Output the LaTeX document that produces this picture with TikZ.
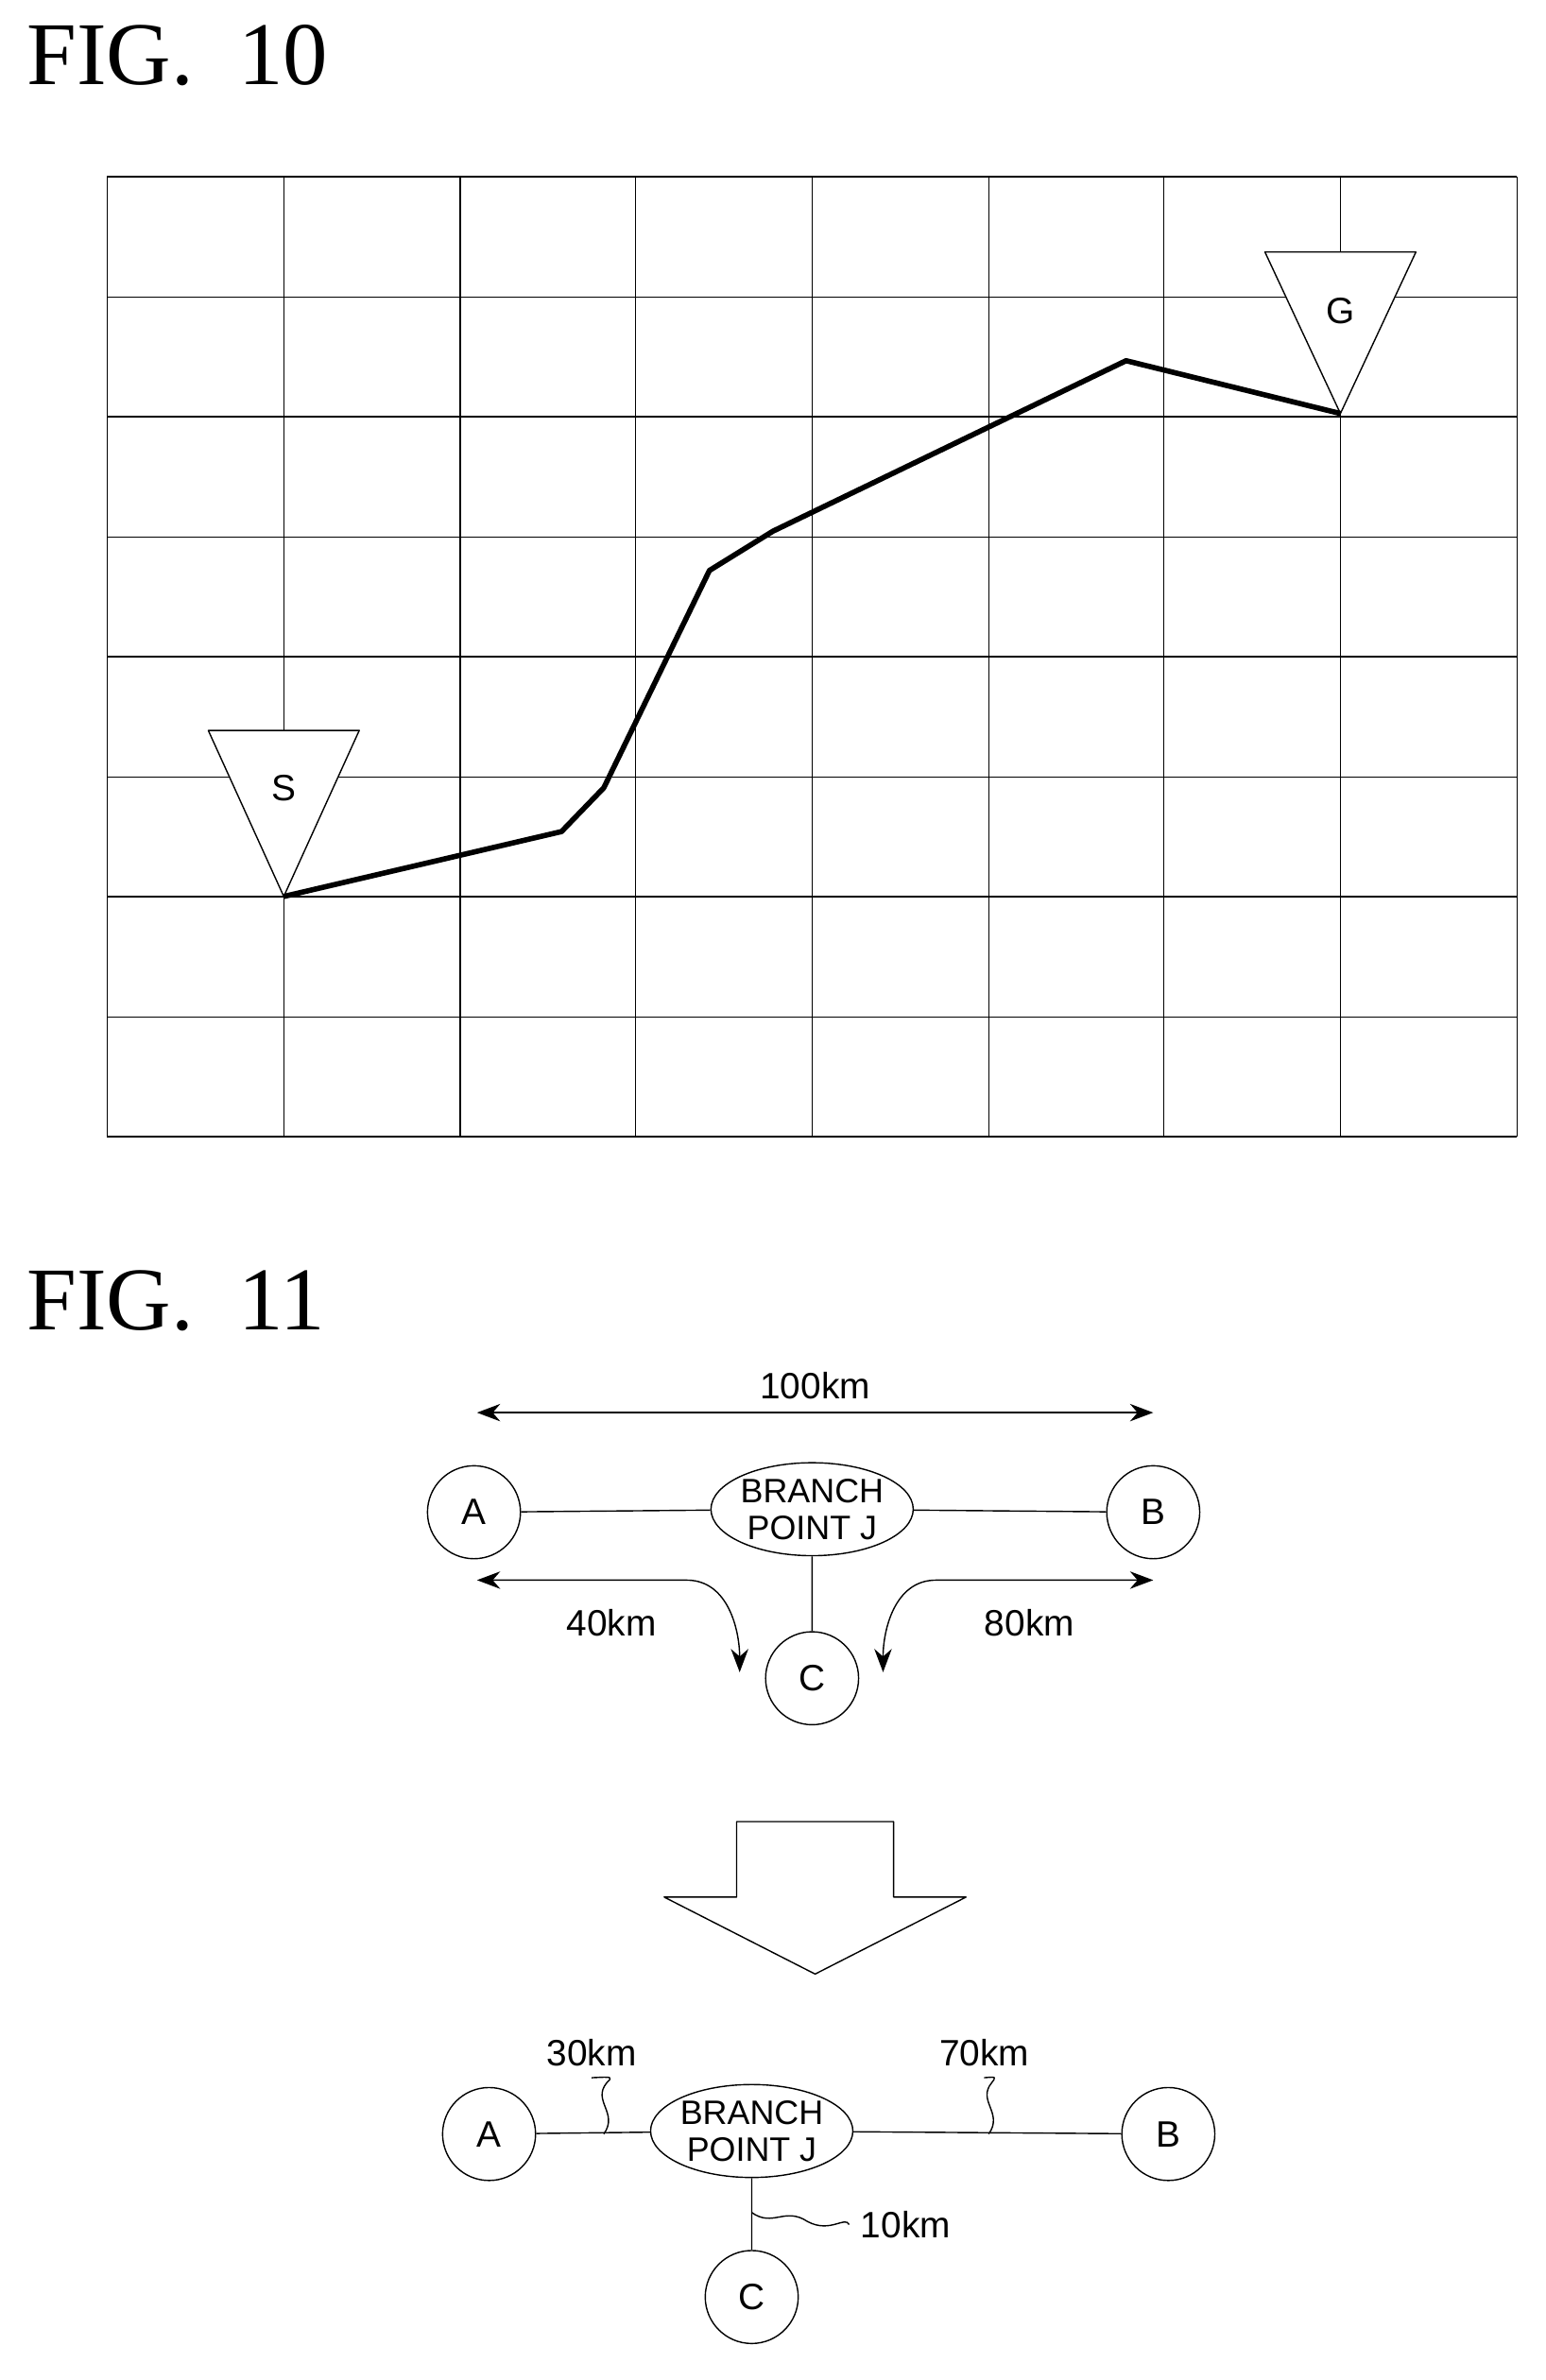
\documentclass[tikz,border=0pt]{standalone}
\usepackage{fontspec}
\setmainfont{Liberation Serif}
\newfontfamily\lblfont{Liberation Sans}[Scale=0.85]
\usetikzlibrary{positioning,arrows.meta,shapes.geometric}
\tikzset{
  stn/.style={draw,circle,minimum size=28pt,inner sep=0pt,font=\lblfont\fontsize{13}{13}\selectfont},
  jct/.style={draw,ellipse,minimum width=60pt,minimum height=28pt,inner sep=0pt,align=center,font=\lblfont\fontsize{12}{11}\selectfont},
  lbl/.style={font=\lblfont\fontsize{13}{13}\selectfont},
  dist/.style={{Stealth[length=7pt]}-{Stealth[length=7pt]}},
  leader/.style={thin}
}
\begin{document}
\begin{tikzpicture}[x=0.01597cm,y=-0.01597cm,join=round]
\useasboundingbox (0,0) rectangle (1024,1577);
% FIG. 10
\node[anchor=west,font=\fontsize{27}{27}\selectfont] (t10) at (10,37) {FIG.\ \ 10};
\foreach \x in {71,188,305,421,538,655,771,888,1005} \draw[thin] (\x,117) -- (\x,753);
\foreach \y in {117,197,276,356,435,515,594,674,753} \draw[thin] (71,\y) -- (1005,\y);
\draw[fill=white] (138,484) -- (238,484) -- (188,594) -- cycle;
\draw[fill=white] (838,167) -- (938,167) -- (888,274) -- cycle;
\node[lbl] (s) at (188,522) {S};
\node[lbl] (g) at (888,206) {G};
\draw[line width=1.6pt] (188,594) -- (372,551) -- (400,522) -- (470,378) -- (512,352) -- (746,239) -- (888,274);
% FIG. 11
\node[anchor=west,font=\fontsize{27}{27}\selectfont] (t11) at (10,862) {FIG.\ \ 11};
\node[stn] (a1) at (314,1002) {A};
\node[jct] (j1) at (538,1000) {BRANCH\\POINT J};
\node[stn] (b1) at (764,1002) {B};
\node[stn] (c1) at (538,1112) {C};
\draw (a1) -- (j1) (j1) -- (b1) (j1) -- (c1);
\coordinate (l100) at (316,936);
\coordinate (r100) at (764,936);
\draw[dist] (l100) -- (r100);
\node[lbl] (d100) at (540,918) {100km};
\coordinate (l40) at (316,1047);
\coordinate (e40) at (490,1108);
\draw[dist] (l40) -- (455,1047) to[out=0,in=90] (e40);
\coordinate (r80) at (764,1047);
\coordinate (e80) at (585,1108);
\draw[dist] (r80) -- (620,1047) to[out=180,in=90] (e80);
\node[lbl] (d40) at (405,1075) {40km};
\node[lbl] (d80) at (682,1075) {80km};
% block arrow
\draw (488,1207) -- (592,1207) -- (592,1257) -- (640,1257) -- (540,1308) -- (440,1257) -- (488,1257) -- cycle;
% result
\node[stn] (a2) at (324,1414) {A};
\node[jct] (j2) at (498,1412) {BRANCH\\POINT J};
\node[stn] (b2) at (774,1414) {B};
\node[stn] (c2) at (498,1522) {C};
\draw (a2) -- (j2) (j2) -- (b2) (j2) -- (c2);
\node[lbl] (d30) at (392,1360) {30km};
\node[lbl] (d70) at (652,1360) {70km};
\node[lbl] (d10) at (600,1474) {10km};
\draw[leader] (400,1414) .. controls (410,1400) and (392,1392) .. (402,1380) .. controls (406,1376) .. (d30.south);
\draw[leader] (655,1414) .. controls (665,1400) and (647,1392) .. (657,1380) .. controls (660,1376) .. (d70.south);
\draw[leader] (498,1466) .. controls (512,1476) and (520,1462) .. (535,1472) .. controls (550,1480) and (560,1468) .. (d10.west);
\end{tikzpicture}
\end{document}
